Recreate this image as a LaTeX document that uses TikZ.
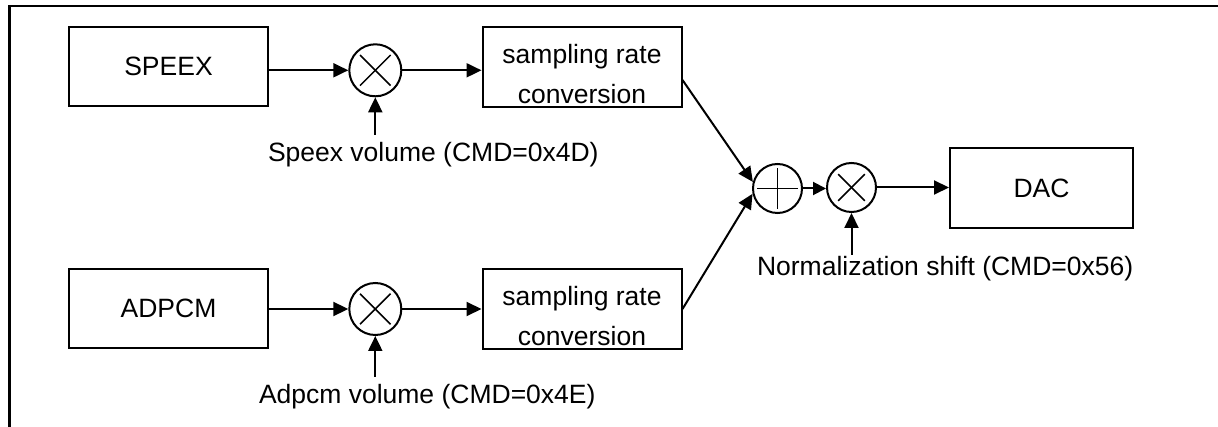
\documentclass[tikz,border=0pt]{standalone}
\usepackage{fontspec}
\setmainfont{Liberation Sans}
\usetikzlibrary{arrows.meta,calc}
\newcommand{\lblfont}{\fontsize{26.5}{40}\selectfont}
\begin{document}
\begin{tikzpicture}[x=1pt,y=-1pt,line width=2pt,
  block/.style={draw,rectangle,minimum width=199pt,minimum height=79.5pt,inner sep=0pt,font=\lblfont},
  opbig/.style={draw,circle,minimum size=52pt,inner sep=0pt},
  opsmall/.style={draw,circle,minimum size=49pt,inner sep=0pt},
  lbl/.style={font=\lblfont,inner sep=0pt},
  sym/.style={line width=1.5pt},
  flow/.style={-{Triangle[length=15pt,width=14pt]}},
  shortflow/.style={-{Triangle[length=13pt,width=13pt]}},
  frame/.style={line width=2.4pt}]
\useasboundingbox (0,0) rectangle (1218,427);

% page frame (top and left edges)
\coordinate (fbl) at (9.3,427);
\coordinate (ftl) at (9.3,6);
\coordinate (ftr) at (1218,6);
\draw[frame] (fbl) -- (ftl) -- (ftr);

% sources
\node[block] (speex) at (168.5,66.5) {SPEEX};
\node[block] (adpcm) at (168.5,308.5) {ADPCM};

% volume multipliers
\node[opbig] (mul1) at (375.3,70.3) {};
\node[opbig] (mul2) at (375.3,309) {};
\foreach \m in {mul1,mul2}{
  \draw[sym] ($(\m.center)!0.8!(\m.45)$) -- ($(\m.center)!0.8!(\m.225)$);
  \draw[sym] ($(\m.center)!0.8!(\m.135)$) -- ($(\m.center)!0.8!(\m.315)$);
}

% sampling rate converters
\node[block] (src1) at (582,67) {};
\node[lbl,anchor=base] (src1a) at ($(src1.center)+(0,-3.5)$) {sampling rate};
\node[lbl,anchor=base] (src1b) at ($(src1.center)+(0,36.5)$) {conversion};
\node[block] (src2) at (582,309) {};
\node[lbl,anchor=base] (src2a) at ($(src2.center)+(0,-3.5)$) {sampling rate};
\node[lbl,anchor=base] (src2b) at ($(src2.center)+(0,36.5)$) {conversion};

% mixer and normalization
\node[opsmall] (sum) at (777.5,188.5) {};
\draw[sym] ($(sum.center)!0.8!(sum.west)$) -- ($(sum.center)!0.8!(sum.east)$);
\draw[sym] ($(sum.center)!0.8!(sum.north)$) -- ($(sum.center)!0.8!(sum.south)$);
\node[opsmall] (mul3) at (851.5,187.5) {};
\draw[sym] ($(mul3.center)!0.74!(mul3.45)$) -- ($(mul3.center)!0.74!(mul3.225)$);
\draw[sym] ($(mul3.center)!0.74!(mul3.135)$) -- ($(mul3.center)!0.74!(mul3.315)$);

\node[block,minimum width=183pt] (dac) at (1041.5,188) {DAC};

% control labels
\node[lbl,anchor=base west] (vol1) at (267,161.7) {Speex volume (CMD=0x4D)};
\node[lbl,anchor=base west] (vol2) at (258,403) {Adpcm volume (CMD=0x4E)};
\node[lbl,anchor=base west] (norm) at (756,275.7) {Normalization shift (CMD=0x56)};
\coordinate (vin1) at (375.3,135);
\coordinate (vin2) at (375.3,377);
\coordinate (vin3) at (851.5,255);

% signal path
\draw[flow] (mul1 -| speex.east) -- (mul1.west);
\draw[flow] (mul1.east) -- (mul1 -| src1.west);
\draw[flow] (mul2 -| adpcm.east) -- (mul2.west);
\draw[flow] (mul2.east) -- (mul2 -| src2.west);
\draw[flow] ($(src1.east)+(0,13)$) -- (sum.165);
\draw[flow] (src2.east) -- (sum.192);
\draw[shortflow] (sum.east) -- (sum -| mul3.west);
\draw[flow] (mul3.east) -- (mul3 -| dac.west);

% control inputs
\draw[flow] (vin1) -- (mul1.south);
\draw[flow] (vin2) -- (mul2.south);
\draw[flow] (vin3) -- (mul3.south);
\end{tikzpicture}
\end{document}
